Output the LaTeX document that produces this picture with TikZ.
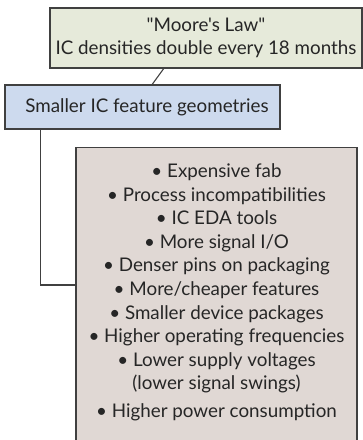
\documentclass[tikz,border=0pt]{standalone}
\usepackage{fontspec}
\setmainfont{Lato}[Ligatures=TeXOff]
\usetikzlibrary{positioning, calc}

\definecolor{lawfill}{RGB}{230,234,218}
\definecolor{geomfill}{RGB}{205,218,238}
\definecolor{effectfill}{RGB}{224,216,212}
\definecolor{boxline}{RGB}{64,64,64}

\begin{document}
\begin{tikzpicture}[
		x=1pt, y=-1pt,
		font=\fontsize{18.8}{23}\selectfont,
		box/.style={draw=boxline, line width=1.1pt, inner sep=0pt, align=center, text=black!85},
		link/.style={draw=boxline, line width=1.1pt}
		]
		
		% page frame
		\useasboundingbox (0,0) rectangle (363,440);
		
		% cause and first consequence
		\node[box, fill=lawfill, minimum width=312, minimum height=60] (law) at (206,38)
			{"Moore's Law"\\IC densities double every 18 months};
		\node[box, fill=geomfill, minimum width=275, minimum height=44] (geom) at (142.5,107)
			{\hspace{9pt}Smaller IC feature geometries};
		
		% list of effects, box runs off the bottom edge
		\node[box, fill=effectfill, minimum width=281, anchor=north, inner ysep=16pt] (effects) at (216.5,147)
			{\parbox[c][300pt][t]{275pt}{\centering\baselineskip=23.6pt
				• Expensive fab\\
				• Process incompatibilities\\
				• IC EDA tools\\
				• More signal I/O\\
				• Denser pins on packaging\\
				• More/cheaper features\\
				• Smaller device packages\\
				• Higher operating frequencies\\
				• Lower supply voltages\\
				(lower signal swings)\\[4.5pt]
				• Higher power consumption}};
		
		% connectors
		\draw[link] ($(law.south west)!0.365!(law.south east)$) -- ($(geom.north west)!0.535!(geom.north east)$);
		\draw[link] ($(geom.south west)!0.131!(geom.south east)$) |- ([yshift=-138pt]effects.north west);
		
	\end{tikzpicture}
\end{document}
